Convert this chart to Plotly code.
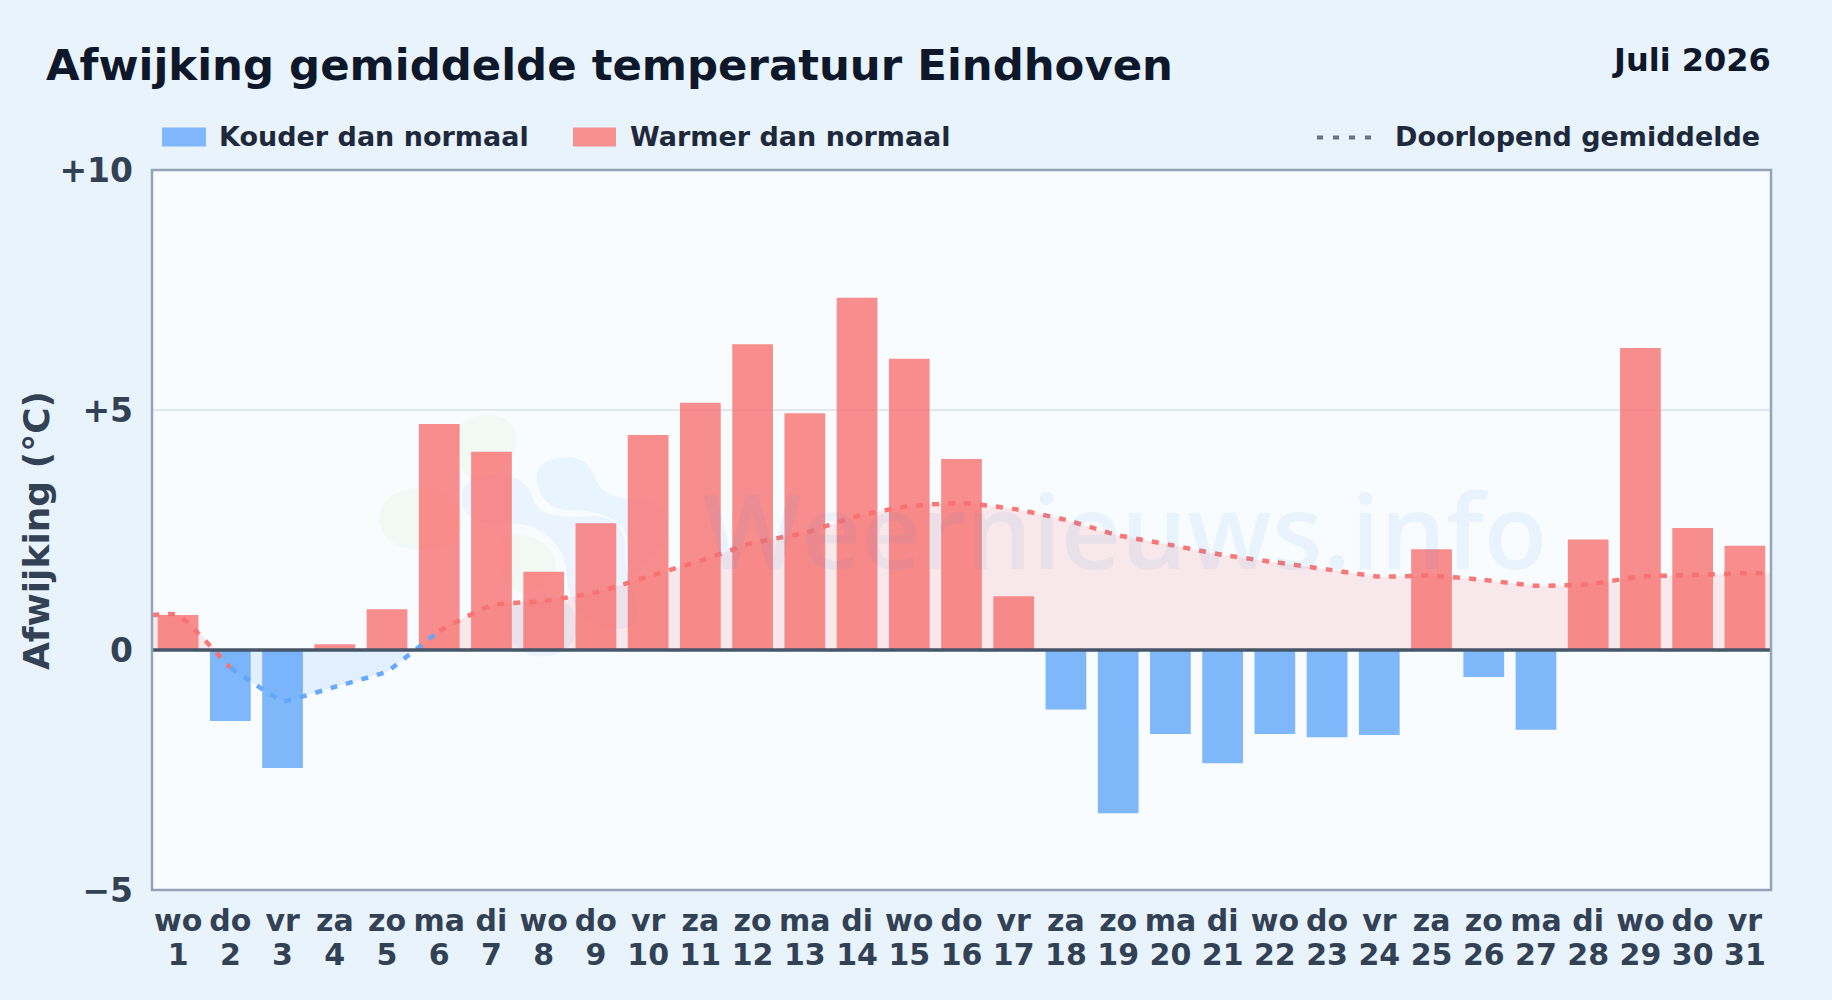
import plotly.graph_objects as go

weekdays = ["wo","do","vr","za","zo","ma","di","wo","do","vr","za","zo","ma","di","wo","do","vr","za","zo","ma","di","wo","do","vr","za","zo","ma","di","wo","do","vr"]
days = list(range(1, 32))
deviation = [0.73,-1.48,-2.46,0.12,0.85,4.71,4.13,1.63,2.64,4.48,5.15,6.37,4.93,7.34,6.07,3.98,1.12,-1.24,-3.40,-1.75,-2.36,-1.75,-1.82,-1.77,2.10,-0.56,-1.66,2.30,6.29,2.54,2.17]
running = [0.73,-0.37,-1.07,-0.77,-0.45,0.40,0.93,1.02,1.20,1.53,1.86,2.23,2.44,2.79,3.00,3.06,2.94,2.71,2.39,2.19,1.98,1.83,1.68,1.53,1.55,1.46,1.34,1.37,1.53,1.56,1.60]
y_ticks = [-5, 0, 5, 10]
y_labels = ["−5", "0", "+5", "+10"]

RED = "rgba(248,113,113,0.8)"
BLUE = "rgba(96,165,250,0.8)"
RED_L = "rgba(248,113,113,0.95)"
BLUE_L = "rgba(96,165,250,0.95)"
FONT = "DejaVu Sans"
W, H = 1832, 1000
L, R, T, B = 152, 1771, 169.5, 890.5
X0, X1 = 0.5, 31.5
SMOOTH = 0.45
SMOOTH_COLD = 0.2

def px(x): return (x - L) / (R - L)
def py(y): return (B - y) / (B - T)

fig = go.Figure()

cold_x = [d for d, v in zip(days, deviation) if v < 0]
cold_y = [v for v in deviation if v < 0]
warm_x = [d for d, v in zip(days, deviation) if v >= 0]
warm_y = [v for v in deviation if v >= 0]

fig.add_bar(x=warm_x, y=warm_y, width=0.78, marker=dict(color=RED, line_width=0), name="Warmer dan normaal")
fig.add_bar(x=cold_x, y=cold_y, width=0.78, marker=dict(color=BLUE, line_width=0), name="Kouder dan normaal")

# filled area between running mean and the zero line
fig.add_scatter(x=[X0]+days[:1]+[1.74], y=running[:1]*2+[0], mode="lines", line=dict(width=0, shape="spline", smoothing=SMOOTH), fill="tozeroy", fillcolor="rgba(248,113,113,0.14)", hoverinfo="skip")
fig.add_scatter(x=[1.74]+days[1:5]+[5.53], y=[0]+running[1:5]+[0], mode="lines", line=dict(width=0, shape="spline", smoothing=SMOOTH_COLD), fill="tozeroy", fillcolor="rgba(96,165,250,0.15)", hoverinfo="skip")
fig.add_scatter(x=[5.53]+days[5:]+[X1], y=[0]+running[5:]+running[-1:], mode="lines", line=dict(width=0, shape="spline", smoothing=SMOOTH), fill="tozeroy", fillcolor="rgba(248,113,113,0.14)", hoverinfo="skip")

# running mean
DASH = "7px,9px"
LW = 4.5
fig.add_scatter(x=[X0]+days[:2], y=running[:1]+running[:2], mode="lines", line=dict(color=RED_L, width=LW, dash=DASH, shape="spline", smoothing=SMOOTH), name="Doorlopend gemiddelde")
fig.add_scatter(x=days[1:6], y=running[1:6], mode="lines", line=dict(color=BLUE_L, width=LW, dash=DASH, shape="spline", smoothing=SMOOTH_COLD), showlegend=False)
fig.add_scatter(x=days[5:]+[X1], y=running[5:]+running[-1:], mode="lines", line=dict(color=RED_L, width=LW, dash=DASH, shape="spline", smoothing=SMOOTH), showlegend=False)

# day numbers on a second axis, sharing the x scale
fig.add_scatter(x=days, y=[None]*31, xaxis="x2", showlegend=False, hoverinfo="skip")

anns = [
    dict(text="<b>Afwijking gemiddelde temperatuur Eindhoven</b>", x=px(44), y=py(64), xanchor="left", size=43.4, color="#0f172a"),
    dict(text="<b>Juli 2026</b>", x=px(1773), y=py(59), xanchor="right", size=32, color="#0f172a"),
    dict(text="<b>Kouder dan normaal</b>", x=px(217), y=py(136), xanchor="left", size=27, color="#1e293b"),
    dict(text="<b>Warmer dan normaal</b>", x=px(628), y=py(136), xanchor="left", size=27, color="#1e293b"),
    dict(text="<b>Doorlopend gemiddelde</b>", x=px(1393), y=py(136), xanchor="left", size=27, color="#1e293b"),
]
annotations = [dict(xref="paper", yref="paper", x=a["x"], y=a["y"], xanchor=a["xanchor"], yanchor="middle", text=a["text"], showarrow=False, font=dict(family=FONT, size=a["size"], color=a["color"])) for a in anns]
annotations.append(dict(xref="paper", yref="paper", x=px(36), y=py(530), xanchor="center", yanchor="middle", textangle=-90, text="<b>Afwijking (°C)</b>", showarrow=False, font=dict(family=FONT, size=36, color="#334155")))
annotations.append(dict(xref="paper", yref="paper", x=px(1125), y=py(528), xanchor="center", yanchor="middle", text="Weernieuws.info", showarrow=False, font=dict(family="Open Sans", size=104, weight=600, color="rgba(40,130,225,0.07)")))

# watermark logo, written in reference pixels around a crop origin
def blob(points):
    out = []
    for tok in points.split():
        if "," in tok:
            a, b = tok.split(",")
            out.append(f"{px(360 + float(a) / 3):.4f},{py(390 + float(b) / 3):.4f}")
        else:
            out.append(tok)
    return " ".join(out)

logo = [
    ("M 290,130 C 300,70 420,50 460,110 C 490,170 440,230 400,260 C 360,300 300,260 300,210 C 295,180 285,160 290,130 Z", "rgba(190,225,130,0.09)"),
    ("M 60,370 C 70,300 170,285 230,300 C 290,320 320,380 300,430 C 280,480 170,490 110,465 C 70,445 55,410 60,370 Z", "rgba(190,225,130,0.09)"),
    ("M 430,440 C 490,420 570,450 585,510 C 595,570 540,610 480,610 C 420,600 400,480 430,440 Z", "rgba(190,225,130,0.09)"),
    ("M 305,330 C 300,270 370,240 440,255 C 500,270 510,300 525,340 C 545,385 640,385 700,378 C 760,375 800,420 795,480 C 790,560 840,620 830,690 C 810,730 740,720 690,690 C 640,660 620,600 620,540 C 610,460 540,400 460,400 C 380,400 310,400 305,330 Z", "rgba(59,130,246,0.07)"),
    ("M 530,260 C 530,215 600,190 650,205 C 700,220 700,270 730,300 C 770,335 840,320 890,345 C 940,380 930,430 900,470 C 870,510 840,530 810,570 C 805,520 810,440 790,420 C 770,380 700,360 620,360 C 560,355 530,310 530,260 Z", "rgba(56,160,240,0.08)"),
    ("M 440,700 C 440,640 500,610 560,615 C 620,620 650,660 650,710 C 650,770 600,800 545,800 C 490,800 440,760 440,700 Z", "rgba(59,130,246,0.07)"),
]

shapes = [dict(type="path", xref="paper", yref="paper", path=blob(p), fillcolor=c, line_width=0, layer="below") for p, c in logo]
shapes += [
    dict(type="line", xref="paper", yref="y", x0=0, x1=1, y0=0, y1=0, line=dict(color="#475569", width=3.5)),
    dict(type="rect", xref="paper", yref="paper", x0=0, x1=1, y0=0, y1=1, line=dict(color="#94A3B8", width=2.5), fillcolor="rgba(0,0,0,0)"),
    dict(type="rect", xref="paper", yref="paper", x0=px(162), x1=px(206), y0=py(127), y1=py(146), fillcolor="#80B6FB", line_width=0),
    dict(type="rect", xref="paper", yref="paper", x0=px(573), x1=px(616), y0=py(127), y1=py(146), fillcolor="#F8908F", line_width=0),
    dict(type="line", xref="paper", yref="paper", x0=px(1317), x1=px(1376), y0=py(137), y1=py(137), line=dict(color="#64748b", width=4, dash="6px,10px")),
]

TICKS = dict(size=30, color="#334155", family=FONT)
fig.update_layout(
    width=W, height=H,
    margin=dict(l=L, r=W-R, t=T, b=H-B, autoexpand=False),
    paper_bgcolor="#E9F3FC", plot_bgcolor="#F8FCFF",
    barmode="overlay", showlegend=False,
    annotations=annotations, shapes=shapes,
    font=dict(family=FONT),
    xaxis=dict(
        range=[X0, X1], tickmode="array", tickvals=days,
        ticktext=[f"<b>{w}</b>" for w in weekdays],
        tickfont=TICKS, ticks="", ticklen=0, ticklabelstandoff=10,
        showgrid=False, showline=False, zeroline=False,
    ),
    xaxis2=dict(
        range=[X0, X1], overlaying="x", anchor="y", side="bottom", tickmode="array", tickvals=days,
        ticktext=[f"<b>{d}</b>" for d in days],
        tickfont=TICKS, ticks="", ticklen=0, ticklabelstandoff=44,
        showgrid=False, showline=False, zeroline=False,
    ),
    yaxis=dict(
        range=[-5, 10], tickmode="array", tickvals=y_ticks,
        ticktext=[f"<b>{t}</b>" for t in y_labels],
        tickfont=dict(family=FONT, size=33, color="#334155"), ticks="", ticklabelstandoff=18,
        showgrid=True, gridcolor="#E2E8F0", gridwidth=1.5,
        showline=False, zeroline=False,
    ),
)

fig.write_html("out.html", config={"displayModeBar": False},
               post_script="document.body.style.margin='0';document.documentElement.style.background='#E9F3FC';")
